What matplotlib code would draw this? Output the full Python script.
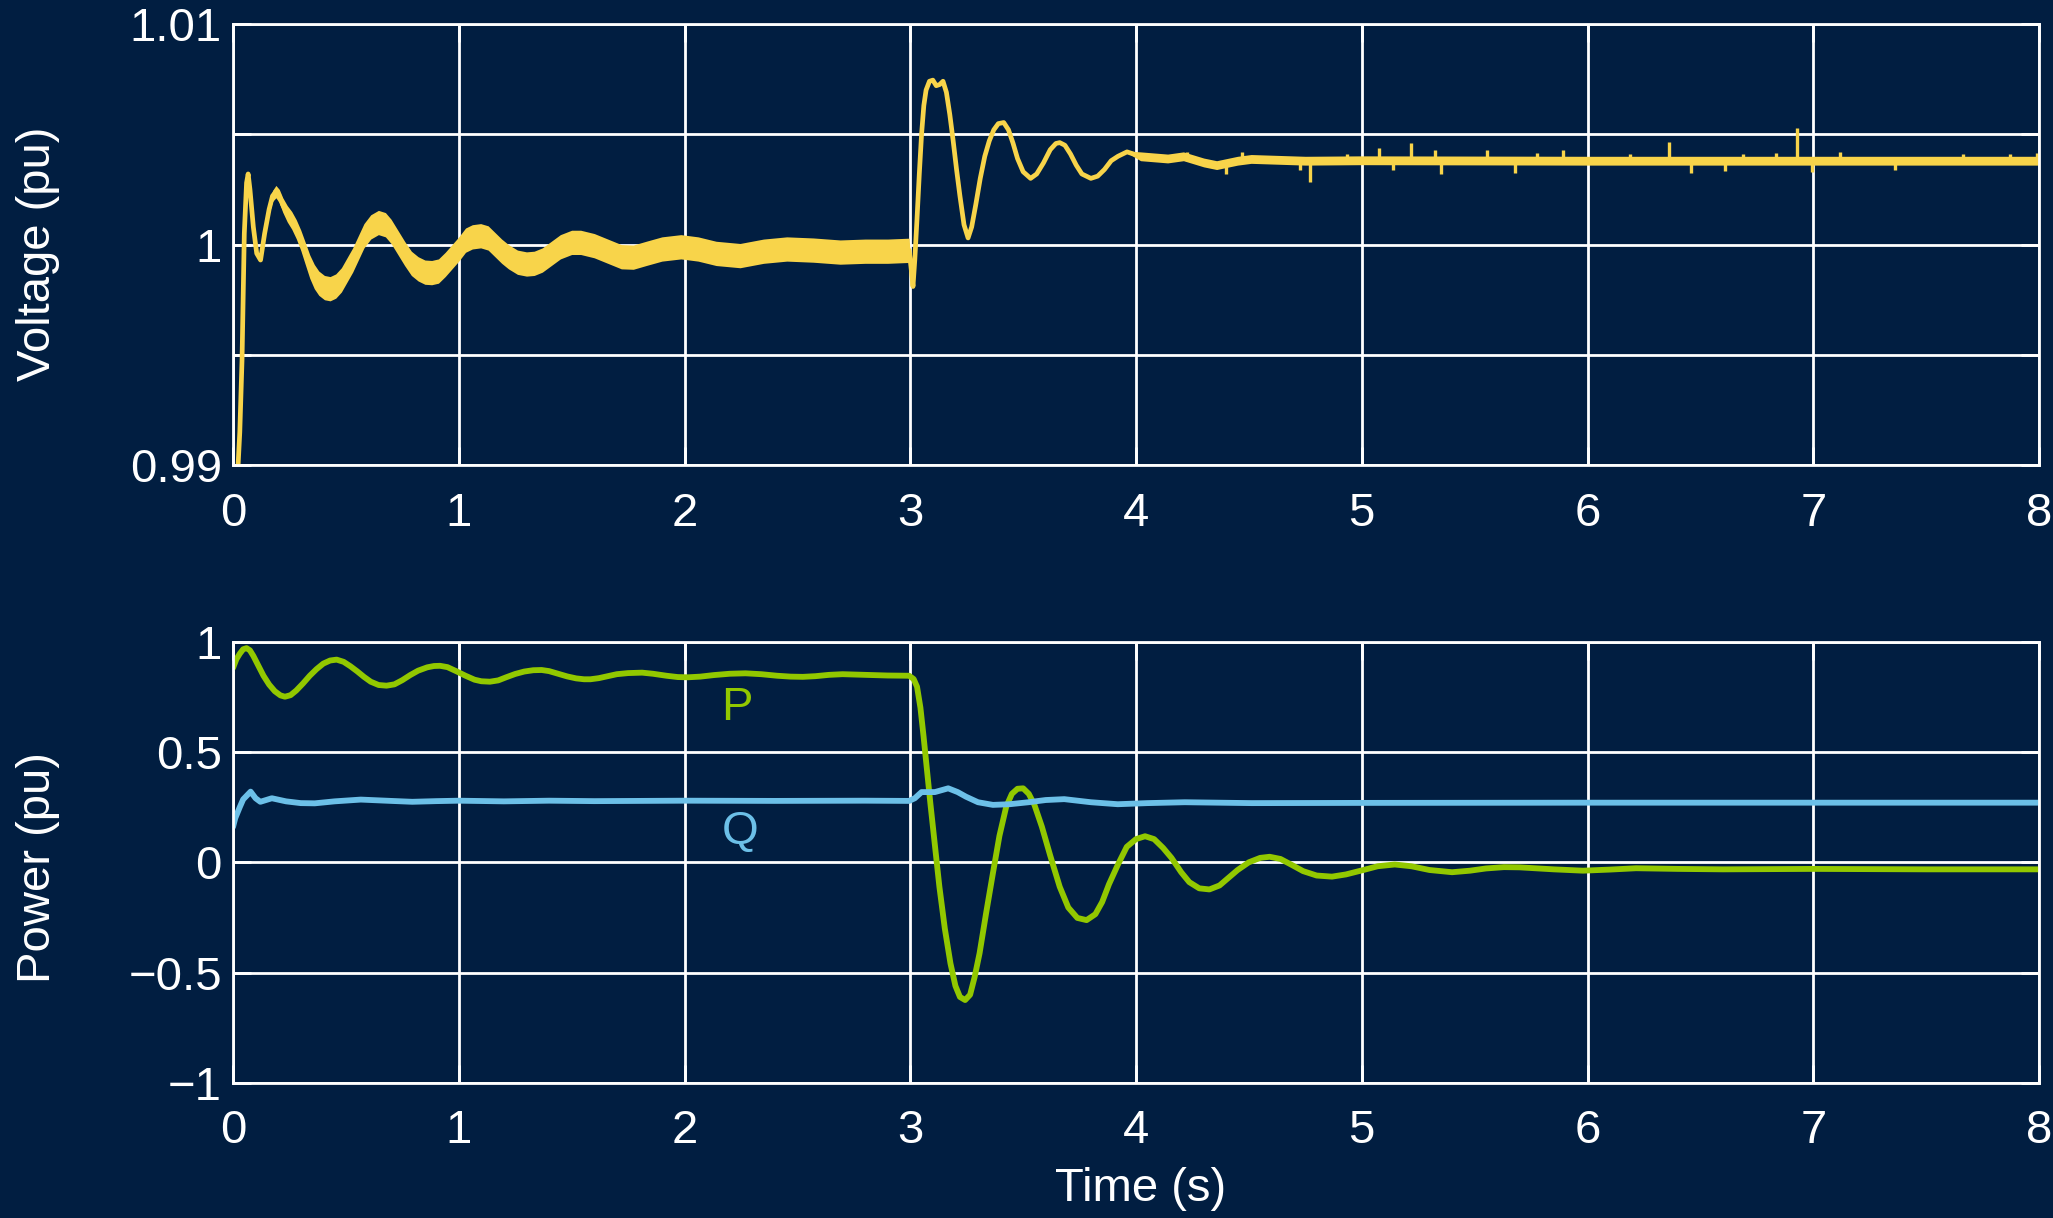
import numpy as np
import matplotlib
matplotlib.use("Agg")
import matplotlib.pyplot as plt

plt.rcParams['font.family'] = ['Liberation Sans', 'DejaVu Sans']

BG = '#011E41'
YELLOW = '#F8D44A'
GREEN = '#92C800'
BLUE = '#6CC0E8'

# ---- voltage ----
t_v = [0.02, 0.03, 0.04, 0.05, 0.06, 0.067, 0.075, 0.09, 0.105, 0.122,
       0.14, 0.16, 0.175, 0.19, 0.205, 0.22, 0.24, 0.26, 0.28, 0.30,
       0.32, 0.34, 0.36, 0.38, 0.405, 0.43, 0.455, 0.48, 0.505, 0.53,
       0.555, 0.58, 0.61, 0.644, 0.675, 0.70, 0.73, 0.76, 0.79, 0.82,
       0.85, 0.88, 0.91, 0.94, 0.97, 1.00, 1.03, 1.06, 1.097, 1.13,
       1.16, 1.19, 1.22, 1.26, 1.30, 1.334, 1.37, 1.41, 1.45, 1.50,
       1.54, 1.60, 1.66, 1.72, 1.773, 1.83, 1.90, 1.984, 2.06, 2.14,
       2.246, 2.35, 2.453, 2.57, 2.689, 2.80, 2.90, 2.995, 3.003, 3.012,
       3.02, 3.03, 3.04, 3.05, 3.06, 3.07, 3.085, 3.10, 3.115, 3.13,
       3.145, 3.16, 3.175, 3.19, 3.205, 3.22, 3.238, 3.256, 3.272, 3.29,
       3.31, 3.33, 3.35, 3.37, 3.39, 3.414, 3.435, 3.455, 3.475, 3.50,
       3.533, 3.56, 3.59, 3.62, 3.645, 3.662, 3.685, 3.71, 3.735, 3.76,
       3.80, 3.83, 3.86, 3.89, 3.92, 3.96, 4.02, 4.14, 4.21, 4.30,
       4.357, 4.45, 4.51, 4.75, 5.0, 6.0, 7.0, 8.0]
v_mid = [0.9895, 0.9915, 0.9948, 1.0005, 1.0028, 1.0032, 1.0025, 1.0008, 0.9996, 0.9993,
         1.0005, 1.0016, 1.0022, 1.0024, 1.0022, 1.0018, 1.0014, 1.0011, 1.0007, 1.0002,
         0.9996, 0.9990, 0.99855, 0.99825, 0.99805, 0.9980, 0.99812, 0.9984, 0.99885, 0.9993,
         0.99985, 1.0004, 1.0008, 1.0010, 1.0009, 1.0006, 1.0001, 0.9996, 0.99915, 0.9989,
         0.99875, 0.99873, 0.9988, 0.9991, 0.99945, 0.9998, 1.0002, 1.00035, 1.0004, 1.0003,
         1.0000, 0.9997, 0.99945, 0.9992, 0.99912, 0.99915, 0.9993, 0.9996, 0.9999, 1.0001,
         1.0001, 0.99995, 0.9997, 0.99945, 0.99943, 0.9996, 0.9998, 0.9999, 0.9998, 0.9996,
         0.9995, 0.9997, 0.9998, 0.99975, 0.99966, 0.9997, 0.9997, 0.99974, 0.9990, 0.9981,
         0.9993, 1.0012, 1.0032, 1.0050, 1.0063, 1.0070, 1.0074, 1.00745, 1.0072, 1.00725,
         1.0074, 1.0069, 1.0059, 1.0047, 1.0034, 1.0022, 1.0009, 1.0003, 1.0008, 1.0018,
         1.0030, 1.0040, 1.0047, 1.0052, 1.00548, 1.00553, 1.0052, 1.0046, 1.0039, 1.0033,
         1.0030, 1.0032, 1.0037, 1.0043, 1.00458, 1.00462, 1.0045, 1.0041, 1.0036, 1.0032,
         1.0030, 1.0031, 1.0034, 1.0038, 1.0040, 1.0042, 1.0040, 1.0039, 1.0040, 1.00372,
         1.0036, 1.0038, 1.00388, 1.0038, 1.00382, 1.0038, 1.0038, 1.0038]
# half height of the fast ripple band around v_mid
v_half = ([0] * 10
          + [0.0001, 0.0002, 0.00025, 0.00028, 0.0003, 0.00033, 0.00037, 0.0004, 0.00043, 0.00046]
          + [0.0005, 0.00053] + [0.00055] * 8
          + [0.00055] * 40
          + [0.00055] * 8 + [0, 0]
          + [0.00004] * 40
          + [0.00004] * 6 + [0.0002] * 4
          + [0.0002] * 8)

# noise spikes on the settled voltage
spike_t = [4.225, 4.40, 4.47, 4.726, 4.771, 4.933, 5.078, 5.14, 5.22, 5.325,
           5.35, 5.553, 5.679, 5.775, 5.893, 6.19, 6.362, 6.457, 6.61, 6.69,
           6.835, 6.926, 6.993, 7.118, 7.36, 7.664, 7.87, 7.99]
spike_v = [1.0042, 1.0032, 1.0042, 1.00337, 1.00284, 1.00412, 1.00439, 1.0034, 1.0046, 1.0043,
           1.0032, 1.0043, 1.00325, 1.00417, 1.00427, 1.00411, 1.00465, 1.00325, 1.00334, 1.00412,
           1.00415, 1.00526, 1.0033, 1.0042, 1.00338, 1.0041, 1.00412, 1.00415]
spike_base = 1.0038

# ---- active power P ----
t_p = [0, 0.015, 0.03, 0.045, 0.06, 0.075, 0.09, 0.11, 0.135, 0.16,
       0.185, 0.21, 0.23, 0.255, 0.28, 0.31, 0.34, 0.37, 0.40, 0.43,
       0.459, 0.49, 0.52, 0.55, 0.58, 0.61, 0.645, 0.68, 0.715, 0.75,
       0.785, 0.82, 0.86, 0.89, 0.917, 0.95, 0.99, 1.03, 1.07, 1.10,
       1.138, 1.175, 1.21, 1.25, 1.29, 1.33, 1.367, 1.40, 1.44, 1.48,
       1.52, 1.555, 1.583, 1.62, 1.66, 1.70, 1.75, 1.812, 1.86, 1.92,
       1.97, 2.016, 2.07, 2.13, 2.20, 2.27, 2.34, 2.41, 2.47, 2.524,
       2.58, 2.64, 2.70, 2.80, 2.90, 2.995, 3.015, 3.03, 3.045, 3.059,
       3.074, 3.089, 3.109, 3.129, 3.153, 3.178, 3.20, 3.22, 3.243, 3.265,
       3.285, 3.307, 3.336, 3.366, 3.395, 3.425, 3.45, 3.475, 3.50, 3.525,
       3.55, 3.583, 3.62, 3.662, 3.70, 3.74, 3.781, 3.82, 3.85, 3.88,
       3.92, 3.959, 4.00, 4.04, 4.08, 4.12, 4.157, 4.20, 4.236, 4.28,
       4.325, 4.37, 4.41, 4.45, 4.50, 4.55, 4.592, 4.64, 4.69, 4.74,
       4.80, 4.868, 4.93, 5.007, 5.07, 5.146, 5.22, 5.30, 5.40, 5.48,
       5.55, 5.63, 5.70, 5.78, 5.85, 5.98, 6.1, 6.215, 6.4, 6.6,
       7.0, 7.5, 8.0]
p_val = [0.88, 0.92, 0.945, 0.965, 0.97, 0.96, 0.935, 0.895, 0.845, 0.805,
         0.775, 0.756, 0.75, 0.757, 0.778, 0.81, 0.845, 0.875, 0.90, 0.914,
         0.918, 0.908, 0.888, 0.865, 0.84, 0.818, 0.803, 0.80, 0.806, 0.825,
         0.848, 0.868, 0.883, 0.889, 0.89, 0.884, 0.865, 0.845, 0.827, 0.82,
         0.818, 0.824, 0.838, 0.853, 0.864, 0.87, 0.871, 0.866, 0.854, 0.842,
         0.833, 0.829, 0.829, 0.834, 0.843, 0.852, 0.857, 0.859, 0.854, 0.845,
         0.839, 0.838, 0.841, 0.848, 0.854, 0.856, 0.852, 0.845, 0.841, 0.840,
         0.843, 0.849, 0.852, 0.849, 0.846, 0.845, 0.83, 0.795, 0.70, 0.569,
         0.42, 0.267, 0.08, -0.111, -0.30, -0.458, -0.56, -0.61, -0.624, -0.60,
         -0.52, -0.412, -0.23, -0.05, 0.12, 0.252, 0.31, 0.333, 0.335, 0.31,
         0.26, 0.161, 0.03, -0.111, -0.205, -0.252, -0.262, -0.235, -0.18, -0.10,
         -0.01, 0.07, 0.105, 0.118, 0.105, 0.065, 0.020, -0.045, -0.09, -0.118,
         -0.123, -0.105, -0.07, -0.035, 0.0, 0.02, 0.025, 0.015, -0.012, -0.04,
         -0.06, -0.065, -0.055, -0.035, -0.018, -0.010, -0.018, -0.035, -0.045, -0.038,
         -0.028, -0.022, -0.023, -0.028, -0.032, -0.038, -0.033, -0.027, -0.030, -0.032,
         -0.030, -0.032, -0.032]

# ---- reactive power Q ----
t_q = [0, 0.01, 0.03, 0.045, 0.078, 0.10, 0.121, 0.172, 0.235, 0.30,
       0.362, 0.45, 0.566, 0.70, 0.794, 0.90, 1.0, 1.2, 1.4, 1.6,
       1.8, 2.0, 2.4, 2.8, 2.995, 3.02, 3.05, 3.109, 3.168, 3.21,
       3.247, 3.30, 3.366, 3.44, 3.524, 3.60, 3.682, 3.80, 3.919, 4.05,
       4.216, 4.513, 5.0, 6.0, 7.0, 8.0]
q_val = [0.16, 0.20, 0.25, 0.285, 0.32, 0.29, 0.274, 0.29, 0.276, 0.268,
         0.267, 0.276, 0.284, 0.278, 0.274, 0.277, 0.279, 0.276, 0.279, 0.277,
         0.278, 0.279, 0.278, 0.279, 0.278, 0.29, 0.318, 0.318, 0.335, 0.318,
         0.297, 0.272, 0.26, 0.263, 0.272, 0.282, 0.286, 0.272, 0.263, 0.268,
         0.272, 0.268, 0.269, 0.27, 0.27, 0.27]

t_v = np.array(t_v)
v_mid = np.array(v_mid)
v_half = np.array(v_half, dtype=float)
assert len(t_v) == len(v_mid) == len(v_half)
assert len(t_p) == len(p_val) and len(t_q) == len(q_val)

fig = plt.figure(figsize=(20.53, 12.18), dpi=100, facecolor=BG)
ax1 = fig.add_axes([0.1135, 0.618, 0.8797, 0.3624])
ax2 = fig.add_axes([0.1135, 0.1108, 0.8797, 0.3625])

for ax in (ax1, ax2):
    ax.set_facecolor(BG)
    ax.set_xlim(0, 8)
    ax.set_xticks(range(0, 9))
    ax.grid(True, color='white', linewidth=2.0)
    ax.set_axisbelow(True)
    for sp in ax.spines.values():
        sp.set_color('white')
        sp.set_linewidth(2)
    ax.tick_params(direction='in', length=13, width=2, colors='white',
                   top=True, right=True, labelsize=34)
    ax.tick_params(axis='x', pad=19)
    ax.tick_params(axis='y', pad=8)

# voltage
ax1.fill_between(t_v, v_mid - v_half, v_mid + v_half, color=YELLOW, lw=0)
ax1.plot(t_v, v_mid, color=YELLOW, lw=3.4)
ax1.vlines(spike_t, spike_base, spike_v, color=YELLOW, lw=2.4)
ax1.set_ylim(0.99, 1.01)
ax1.set_yticks([0.99, 0.995, 1.0, 1.005, 1.01])
ax1.set_yticklabels(['0.99', '', '1', '', '1.01'])

# power
ax2.plot(t_p, p_val, color=GREEN, lw=4.2, solid_capstyle='round')
ax2.plot(t_q, q_val, color=BLUE, lw=4.2, solid_capstyle='round')
ax2.set_ylim(-1, 1)
ax2.set_yticks([-1, -0.5, 0, 0.5, 1])
ax2.set_yticklabels(['\u22121', '\u22120.5', '0', '0.5', '1'])
ax2.text(2.233, 0.70, 'P', color=GREEN, fontsize=34, ha='center', va='center')
ax2.text(2.245, 0.135, 'Q', color=BLUE, fontsize=34, ha='center', va='center')

fig.text(0.01875, 0.7915, 'Voltage (pu)', color='white', fontsize=34,
         rotation=90, ha='center', va='center')
fig.text(0.01875, 0.2877, 'Power (pu)', color='white', fontsize=34,
         rotation=90, ha='center', va='center')
fig.text(1141 / 2053, 1 - 1189 / 1218, 'Time (s)', color='white', fontsize=34,
         ha='center', va='center')

fig.savefig('out.png', dpi=100, facecolor=BG)
